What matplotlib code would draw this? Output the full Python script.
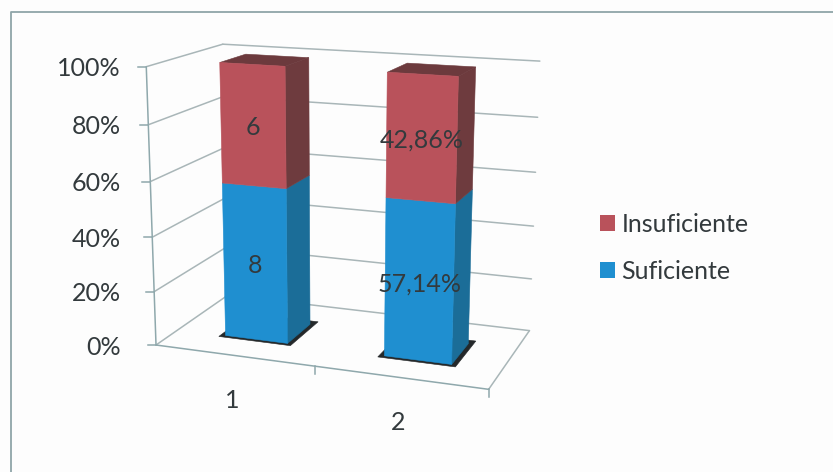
import numpy as np
import matplotlib
matplotlib.use("Agg")
import matplotlib.pyplot as plt
from matplotlib.patches import Patch

# ---- data ----
categories = [1, 2]
suficiente_pct = [57.14, 57.14]
insuficiente_pct = [42.86, 42.86]
suficiente_labels = ["8", "57,14%"]
insuficiente_labels = ["6", "42,86%"]
y_ticks = [0, 20, 40, 60, 80, 100]
y_tick_labels = ["0%", "20%", "40%", "60%", "80%", "100%"]
legend_labels = ["Insuficiente", "Suficiente"]

# ---- styles ----
RED, RED_SIDE, RED_TOP = "#b9525b", "#6e3b3e", "#6c3a3d"
BLUE, BLUE_SIDE = "#1f8fd0", "#1b6d98"
GRID, AXIS = "#a9b6b8", "#8fa8ac"
TXT = "#333a3d"
FONT = "Lato"
FS = 18

W, H = 833, 472
fig = plt.figure(figsize=(W / 100, H / 100), dpi=100, facecolor="#fdfdfd")
ax = fig.add_axes([0, 0, 1, 1])
ax.set_xlim(0, W)
ax.set_ylim(H, 0)
ax.axis("off")

# ---- camera: 3D chart box (category, percent, depth) -> page, fitted to box corners ----
X0, X1 = 0.5, 2.5
box = [((X0, 0, 0), (155, 345)), ((X0, 100, 0), (147, 67)), ((X0, 100, 1), (222, 44)),
       ((X0, 0, 1), (229, 295)), ((X1, 100, 1), (540, 61)), ((X1, 0, 1), (529, 331)),
       ((X1, 0, 0), (489, 389))]
A, b = [], []
for (x, y, z), (u, v) in box:
    A.append([x, y, z, 1, 0, 0, 0, 0, -u * x, -u * y, -u * z]); b.append(u)
    A.append([0, 0, 0, 0, x, y, z, 1, -v * x, -v * y, -v * z]); b.append(v)
P = np.append(np.linalg.lstsq(np.array(A, float), np.array(b, float), rcond=None)[0], 1).reshape(3, 4)


def pr(x, y, z):
    q = P @ np.array([x, y, z, 1.0])
    return q[0] / q[2], q[1] / q[2]


def face(pts, color, zorder=3):
    xy = np.array([pr(*p) for p in pts])
    ax.fill(xy[:, 0], xy[:, 1], color=color, lw=0.4, zorder=zorder)


def line(p, q, color=GRID, lw=1.1, zorder=1):
    a, c = pr(*p), pr(*q)
    ax.plot([a[0], c[0]], [a[1], c[1]], color=color, lw=lw, zorder=zorder, solid_capstyle="round")


# ---- outer frame ----
ax.plot([11, 11, W], [H, 12, 12], color="#8fa5a8", lw=1.3, zorder=1)

# ---- walls, floor and axis ----
for t in y_ticks:
    line((X0, t, 0), (X0, t, 1))
    line((X0, t, 1), (X1, t, 1))
line((X1, 0, 0), (X1, 0, 1))
line((X0, 0, 0), (X1, 0, 0), AXIS)
line((X0, 0, 0), (X0, 100, 0), AXIS)
for t, lab in zip(y_ticks, y_tick_labels):
    u, v = pr(X0, t, 0)
    ax.plot([u - 8, u], [v, v], color=AXIS, lw=1.1, zorder=1)
    ax.text(121, v + 2, lab, ha="right", va="center", fontsize=FS, color=TXT, family=FONT)
for x in (1.5, 2.5):
    u, v = pr(x, 0, 0)
    ax.plot([u, u], [v, v + 8], color=AXIS, lw=1.1, zorder=1)

# ---- bars ----
half, z0, z1, dx = 0.20, 0.29, 0.65, 0.012
for c, low, up, l_low, l_up in zip(categories, suficiente_pct, insuficiente_pct,
                                   suficiente_labels, insuficiente_labels):
    x0, x1 = c + dx - half, c + dx + half
    e = 0.03
    face([(x0 - e, 0, z0 - e), (x1 + e, 0, z0 - e), (x1 + e, 0, z1 + 2 * e), (x0 - e, 0, z1 + 2 * e)], "#24282a", 2)
    top = low + up
    for b0, b1, fc, sc in ((0, low, BLUE, BLUE_SIDE), (low, top, RED, RED_SIDE)):
        face([(x1, b0, z0), (x1, b0, z1), (x1, b1, z1), (x1, b1, z0)], sc)
        face([(x0, b0, z0), (x1, b0, z0), (x1, b1, z0), (x0, b1, z0)], fc, 4)
    face([(x0, top, z0), (x1, top, z0), (x1, top, z1), (x0, top, z1)], RED_TOP)
    for mid, lab in ((low / 2, l_low), (low + up / 2, l_up)):
        u, v = pr(c + dx, mid, z0)
        ax.text(u, v + 2, lab, ha="center", va="center", fontsize=FS, color=TXT,
                family=FONT, zorder=6)
    u, v = pr(c, 0, 0)
    ax.text(u - 2, v + 45, str(c), ha="center", va="center", fontsize=FS, color=TXT, family=FONT)

# ---- legend ----
handles = [Patch(color=RED, lw=0), Patch(color=BLUE, lw=0)]
ax.legend(handles, legend_labels, loc="upper left", bbox_to_anchor=(600 / W, 1 - 213 / H),
          bbox_transform=fig.transFigure, frameon=False, borderpad=0, borderaxespad=0,
          handlelength=0.6, handleheight=0.6, handletextpad=0.25, labelspacing=0.96,
          labelcolor=TXT, prop={"family": FONT, "size": FS})

fig.savefig("out.png", dpi=100, facecolor=fig.get_facecolor())
